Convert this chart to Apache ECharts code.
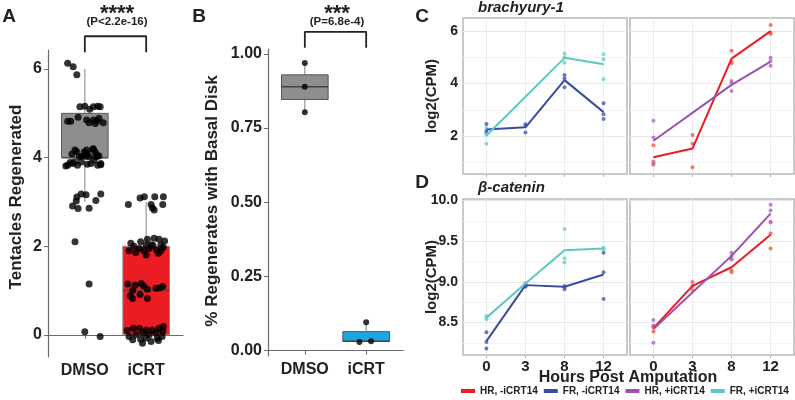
<!DOCTYPE html>
<html>
<head>
<meta charset="utf-8">
<script src="https://cdn.jsdelivr.net/npm/echarts@6/dist/echarts.min.js"></script>
<style>
html, body { margin: 0; padding: 0; background: #fff; }
#chart { width: 795px; height: 400px; }
</style>
</head>
<body>
<div id="chart"></div>
<script>
const font = '"Liberation Sans", Arial, Helvetica, sans-serif';

// panel A / B categories
const groups = ['DMSO', 'iCRT'];

// box stats: [x, min, q1, median, q3, max]
const tentacleBoxes = [[1, 3, 4, 4, 5, 6], [2, 0, 0, 1, 2, 3]];
const basalBoxes = [[1, 0.803, 0.846, 0.889, 0.929, 0.969], [2, 0.029, 0.031, 0.032, 0.064, 0.096]];

// jittered points: [x offset, value]
const tentaclesDmso = [
    [-0.28, 6.13], [-0.19, 6.05], [-0.13, 5.87],
    [-0.08, 5.15], [0.0, 5.16], [0.08, 5.09], [0.14, 5.15], [0.21, 5.16], [0.25, 5.15],
    [-0.11, 4.91], [-0.28, 4.82], [-0.23, 4.82], [0.03, 4.85], [0.07, 4.79], [0.14, 4.85],
    [0.23, 4.89], [0.2, 4.83], [0.3, 4.79], [0.17, 4.77],
    [-0.135, 4.14], [-0.01, 4.13], [0.03, 4.17], [0.13, 4.19], [0.17, 4.13], [-0.31, 3.81],
    [-0.24, 3.89], [-0.17, 3.9], [-0.09, 4.02], [-0.04, 4.03], [0.02, 4.03], [0.07, 4.02],
    [0.18, 4.02], [0.23, 4.04], [0.26, 3.87], [0.21, 3.83], [-0.2, 3.87], [-0.12, 3.83],
    [0.04, 3.85], [0.1, 3.87], [-0.06, 3.9], [0.15, 3.94], [-0.16, 4.17], [0.14, 4.2],
    [0.04, 4.09], [0.2, 4.06], [-0.28, 3.83], [0.26, 3.84], [-0.21, 4.08],
    [-0.06, 3.18], [0.02, 3.16], [-0.13, 3.11], [0.26, 3.18], [0.18, 3.03], [-0.14, 3.02],
    [-0.2, 2.91], [-0.11, 2.85], [0.07, 2.86],
    [-0.16, 2.1], [0.07, 1.15], [0.0, 0.07], [0.25, -0.04]
];
const tentaclesIcrt = [
    [-0.29, 2.94], [-0.1, 3.09], [-0.03, 3.12], [0.14, 3.12], [0.28, 3.12], [0.08, 2.94],
    [0.13, 2.82], [0.27, 2.94], [0.1, 2.87],
    [-0.25, 2.07], [-0.09, 2.1], [0.02, 2.16], [0.13, 2.18], [0.21, 2.16], [0.0, 2.03],
    [0.08, 2.03], [0.24, 2.03], [-0.11, 1.95], [0.05, 1.95], [0.17, 1.91], [-0.28, 1.9],
    [-0.04, 1.9], [0.24, 1.9], [0.0, 1.8], [0.11, 2.02], [0.28, 1.98], [-0.17, 1.86],
    [0.2, 1.84], [0.3, 2.12], [-0.2, 2.0],
    [-0.3, 1.15], [-0.22, 1.0], [-0.08, 1.16], [-0.04, 1.1], [0.02, 1.03], [0.16, 1.05],
    [0.27, 1.09], [-0.26, 0.88], [-0.22, 0.82], [-0.1, 0.91], [0.02, 0.82], [0.22, 1.06],
    [-0.18, 1.12],
    [-0.31, 0.1], [-0.21, 0.15], [-0.11, 0.15], [0.0, 0.11], [0.1, 0.11], [0.21, 0.15],
    [0.28, 0.19], [-0.28, -0.04], [-0.17, 0.0], [-0.06, 0.04], [0.05, 0.0], [0.16, 0.04],
    [0.27, 0.08], [-0.22, -0.11], [-0.09, -0.1], [0.08, -0.15], [0.18, -0.07], [0.0, -0.07],
    [-0.06, -0.19], [0.2, -0.13], [0.26, -0.04]
];
const basalDmso = [[0, 0.969], [0, 0.889], [0, 0.803]];
const basalIcrt = [[0, 0.096], [-0.11, 0.029], [0.08, 0.032]];

// panels C / D
const hours = ['0', '3', '8', '12'];
const seriesNames = ['HR, -iCRT14', 'FR, -iCRT14', 'HR, +iCRT14', 'FR, +iCRT14'];

const brachFrCtrlMean = [2.25, 2.33, 4.13, 2.91];
const brachFrCtrlPts = [[2.46, 2.2, 2.1], [2.45, 2.13, 2.4], [4.33, 4.2, 3.86], [3.25, 2.83, 2.65]];
const brachFrTrtMean = [2.02, null, 4.98, 4.74];
const brachFrTrtPts = [[2.3, 2.05, 1.7], [], [5.15, 5.0, 4.79], [5.12, 4.93, 4.16]];
const brachHrCtrlMean = [1.19, 1.52, 4.95, 6.0];
const brachHrCtrlPts = [[1.65, 1.02, 0.9], [2.04, 1.7, 0.81], [5.25, 4.83, 4.77], [6.23, 5.94, 5.89]];
const brachHrTrtMean = [1.82, null, 3.95, 4.84];
const brachHrTrtPts = [[2.58, 1.94, 0.95], [], [4.1, 4.03, 3.72], [4.98, 4.86, 4.68]];

const catFrCtrlMean = [8.27, 8.96, 8.94, 9.09];
const catFrCtrlPts = [[8.38, 8.26, 8.18], [8.97, 8.95, 8.94], [8.95, 8.93, 8.91], [9.36, 9.12, 8.79]];
const catFrTrtMean = [8.56, 8.98, 9.39, 9.41];
const catFrTrtPts = [[8.58, 8.56, 8.54], [8.99, 8.98, 8.97], [9.65, 9.29, 9.24], [9.42, 9.41, 9.4]];
const catHrCtrlMean = [8.43, 8.95, 9.18, 9.58];
const catHrCtrlPts = [[8.46, 8.44, 8.39], [9.0, 8.95, 8.9], [9.28, 9.14, 9.12], [9.74, 9.6, 9.41]];
const catHrTrtMean = [8.42, null, 9.32, 9.84];
const catHrTrtPts = [[8.53, 8.46, 8.25], [], [9.36, 9.32, 9.28], [9.95, 9.88, 9.73]];

const lineColors = ['#ec1c24', '#3a4da3', '#9b50b2', '#5cc9c1'];
const pointColors = ['#f2614f', '#4e62b8', '#b46ec9', '#74d4cc'];

let myChart = echarts.init(document.getElementById('chart'), null, { renderer: 'canvas' });

function boxSeries(idx, data, fills, edges, medians, whisker) {
    return {
        type: 'custom',
        xAxisIndex: idx,
        yAxisIndex: idx,
        z: 1,
        data: data,
        encode: { x: 0, y: [1, 2, 3, 4, 5] },
        renderItem: function (params, api) {
            let x = api.value(0);
            let lo = api.coord([x, api.value(1)]);
            let q1 = api.coord([x, api.value(2)]);
            let md = api.coord([x, api.value(3)]);
            let q3 = api.coord([x, api.value(4)]);
            let hi = api.coord([x, api.value(5)]);
            let half = api.size([0.76, 0])[0] / 2;
            let i = params.dataIndex;
            return {
                type: 'group',
                children: [
                    { type: 'line', shape: { x1: hi[0], y1: hi[1], x2: q3[0], y2: q3[1] }, style: { stroke: whisker, lineWidth: 1.3 } },
                    { type: 'line', shape: { x1: q1[0], y1: q1[1], x2: lo[0], y2: lo[1] }, style: { stroke: whisker, lineWidth: 1.3 } },
                    { type: 'rect', shape: { x: q3[0] - half, y: q3[1], width: half * 2, height: q1[1] - q3[1] }, style: { fill: fills[i], stroke: edges[i], lineWidth: 1 } },
                    { type: 'line', shape: { x1: md[0] - half, y1: md[1], x2: md[0] + half, y2: md[1] }, style: { stroke: medians[i], lineWidth: 1.5 } }
                ]
            };
        }
    };
}

function jitter(center, pts) {
    return pts.map(p => [center + p[0], p[1]]);
}

function toPairs(pts) {
    let out = [];
    pts.forEach((arr, i) => arr.forEach(v => out.push([i, v])));
    return out;
}

function facetSeries(idx, means, pts, c) {
    return [
        {
            name: seriesNames[c],
            type: 'line',
            xAxisIndex: idx,
            yAxisIndex: idx,
            data: means.map((v, i) => [i, v]),
            connectNulls: true,
            showSymbol: false,
            symbol: 'none',
            color: lineColors[c],
            lineStyle: { width: 2 },
            z: 3
        },
        {
            type: 'scatter',
            xAxisIndex: idx,
            yAxisIndex: idx,
            data: toPairs(pts),
            symbolSize: 4,
            itemStyle: { color: pointColors[c], opacity: 0.85 },
            z: 2
        }
    ];
}

// axes
let axisText = { color: '#222', fontWeight: 'bold', fontFamily: font };
let abX = function (idx) {
    return {
        gridIndex: idx, type: 'value', min: 0.4, max: 2.6,
        axisLine: { lineStyle: { color: '#6b6b6b', width: 1.2 } },
        axisTick: { customValues: [1, 2], length: 4, lineStyle: { color: '#6b6b6b' } },
        axisLabel: Object.assign({ customValues: [1, 2], fontSize: 16, margin: 6, formatter: v => groups[Math.round(v) - 1] }, axisText),
        splitLine: { show: false }
    };
};
let abY = function (idx, min, max, ticks, fmt) {
    return {
        gridIndex: idx, type: 'value', min: min, max: max,
        axisLine: { show: true, lineStyle: { color: '#6b6b6b', width: 1.2 } },
        axisTick: { show: true, customValues: ticks, length: 4, lineStyle: { color: '#6b6b6b' } },
        axisLabel: Object.assign({ customValues: ticks, fontSize: 16, margin: 6, formatter: fmt }, axisText),
        splitLine: { show: false }
    };
};
let facetX = function (idx, labels) {
    return {
        gridIndex: idx, type: 'value', min: -0.6, max: 3.6,
        axisLine: { show: false },
        axisTick: { show: true, customValues: [0, 1, 2, 3], length: 3, lineStyle: { color: '#b0b0b0' } },
        axisLabel: Object.assign({ show: labels, customValues: [0, 1, 2, 3], fontSize: 15, margin: 4, formatter: v => hours[Math.round(v)] }, axisText),
        splitLine: { show: true, lineStyle: { color: '#ebebeb', width: 1 } }
    };
};
let facetY = function (idx, min, max, grid, ticks, labels) {
    return {
        gridIndex: idx, type: 'value', min: min, max: max,
        axisLine: { show: false },
        axisTick: { show: false, customValues: grid },
        axisLabel: Object.assign({ show: labels, customValues: ticks, fontSize: 14, margin: 5,
            formatter: v => (max > 8 ? v.toFixed(1) : String(v)) }, axisText),
        splitLine: { show: true, lineStyle: { color: ['#f3f3f3', '#e8e8e8'], width: 1 } }
    };
};

let gridBase = { outerBoundsMode: 'none', containLabel: false };
let facetGrid = { show: true, borderColor: '#b8b8b8', borderWidth: 1.5, backgroundColor: '#fff' };

let txt = function (x, y, text, size, extra) {
    return Object.assign({
        type: 'text', x: x, y: y, z: 10,
        style: Object.assign({ text: text, fill: '#222', font: 'bold ' + size + 'px ' + font, align: 'center', verticalAlign: 'middle' }, extra || {})
    });
};

let option = {
    backgroundColor: '#fff',
    animation: false,
    grid: [
        Object.assign({ left: 48, top: 50, width: 135, height: 307 }, gridBase),
        Object.assign({ left: 268, top: 49, width: 135, height: 307 }, gridBase),
        Object.assign({ left: 463, top: 18, width: 164, height: 156 }, gridBase, facetGrid),
        Object.assign({ left: 630, top: 18, width: 164, height: 156 }, gridBase, facetGrid),
        Object.assign({ left: 463, top: 199, width: 164, height: 156 }, gridBase, facetGrid),
        Object.assign({ left: 630, top: 199, width: 164, height: 156 }, gridBase, facetGrid)
    ],
    xAxis: [
        abX(0), abX(1),
        facetX(2, false), facetX(3, false), facetX(4, true), facetX(5, true)
    ],
    yAxis: [
        abY(0, -0.5, 6.43, [0, 2, 4, 6], v => String(v)),
        abY(1, -0.018, 1.016, [0, 0.25, 0.5, 0.75, 1], v => v.toFixed(2)),
        facetY(2, 0.55, 6.5, [1, 2, 3, 4, 5, 6], [2, 4, 6], true),
        facetY(3, 0.55, 6.5, [1, 2, 3, 4, 5, 6], [2, 4, 6], false),
        facetY(4, 8.1, 10.02, [8.25, 8.5, 8.75, 9, 9.25, 9.5, 9.75, 10], [8.5, 9, 9.5, 10], true),
        facetY(5, 8.1, 10.02, [8.25, 8.5, 8.75, 9, 9.25, 9.5, 9.75, 10], [8.5, 9, 9.5, 10], false)
    ],
    legend: {
        left: 461,
        top: 386,
        width: 334,
        padding: 0,
        icon: 'rect',
        itemWidth: 14,
        itemHeight: 4,
        itemGap: 6,
        data: seriesNames,
        textStyle: { fontSize: 10, fontWeight: 'bold', fontFamily: font, color: '#222' }
    },
    graphic: [
        txt(9, 17, 'A', 19),
        txt(199, 17, 'B', 19),
        txt(422, 17, 'C', 19),
        txt(422, 183, 'D', 19),
        txt(117, 14, '****', 22),
        txt(117, 22, '(P<2.2e-16)', 11.5),
        txt(337, 14, '***', 22),
        txt(337, 22, '(P=6.8e-4)', 11.5),
        Object.assign(txt(16, 197, 'Tentacles Regenerated', 17), { rotation: Math.PI / 2 }),
        Object.assign(txt(212, 201, '% Regenerates with Basal Disk', 17), { rotation: Math.PI / 2 }),
        Object.assign(txt(432, 96, 'log2(CPM)', 15), { rotation: Math.PI / 2 }),
        Object.assign(txt(432, 277, 'log2(CPM)', 15), { rotation: Math.PI / 2 }),
        txt(478, 8, 'brachyury-1', 15, { align: 'left', font: 'italic bold 15px ' + font }),
        txt(478, 188, 'β-catenin', 15, { align: 'left', font: 'italic bold 15px ' + font }),
        txt(628, 378, 'Hours Post Amputation', 16)
    ],
    series: [
        boxSeries(0, tentacleBoxes, ['#8e8e8e', '#ec1c24'], ['#5c5c5c', '#8a8a8a'], ['#555555', '#7b3a3a'], '#a0a0a0'),
        {
            type: 'scatter', xAxisIndex: 0, yAxisIndex: 0, z: 3,
            data: jitter(1, tentaclesDmso).concat(jitter(2, tentaclesIcrt)),
            symbolSize: 7, itemStyle: { color: '#000' }
        },
        {
            type: 'line', xAxisIndex: 0, yAxisIndex: 0, clip: false, symbol: 'none',
            data: [[1, 6.38], [1, 6.74], [2, 6.74], [2, 6.38]],
            lineStyle: { color: '#222', width: 1.8 }
        },
        boxSeries(1, basalBoxes, ['#8e8e8e', '#1ba5e1'], ['#555555', '#555555'], ['#444444', '#444444'], '#9a9a9a'),
        {
            type: 'scatter', xAxisIndex: 1, yAxisIndex: 1, z: 3,
            data: jitter(1, basalDmso).concat(jitter(2, basalIcrt)),
            symbolSize: 6, itemStyle: { color: '#000' }
        },
        {
            type: 'line', xAxisIndex: 1, yAxisIndex: 1, clip: false, symbol: 'none',
            data: [[1, 1.02], [1, 1.074], [2, 1.074], [2, 1.02]],
            lineStyle: { color: '#222', width: 1.8 }
        }
    ]
        .concat(facetSeries(3, brachHrCtrlMean, brachHrCtrlPts, 0))
        .concat(facetSeries(2, brachFrCtrlMean, brachFrCtrlPts, 1))
        .concat(facetSeries(3, brachHrTrtMean, brachHrTrtPts, 2))
        .concat(facetSeries(2, brachFrTrtMean, brachFrTrtPts, 3))
        .concat(facetSeries(5, catHrCtrlMean, catHrCtrlPts, 0))
        .concat(facetSeries(4, catFrCtrlMean, catFrCtrlPts, 1))
        .concat(facetSeries(5, catHrTrtMean, catHrTrtPts, 2))
        .concat(facetSeries(4, catFrTrtMean, catFrTrtPts, 3))
};
myChart.setOption(option);
</script>
</body>
</html>
